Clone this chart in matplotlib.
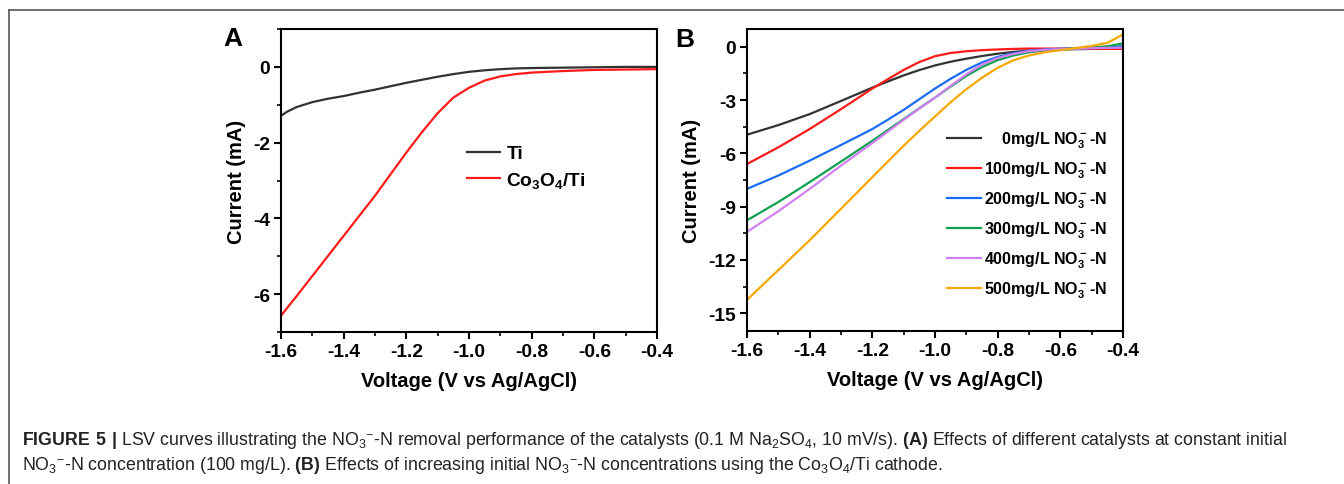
import matplotlib
matplotlib.use("Agg")
import matplotlib.pyplot as plt
from matplotlib import font_manager
from matplotlib.lines import Line2D
from matplotlib.ticker import MultipleLocator

# Panel A: LSV of bare Ti vs Co3O4/Ti at 100 mg/L nitrate
voltageA = [-1.6, -1.58, -1.55, -1.5, -1.45, -1.4, -1.35, -1.3, -1.25, -1.2, -1.15,
            -1.1, -1.05, -1.0, -0.95, -0.9, -0.85, -0.8, -0.7, -0.6, -0.5, -0.4]
currentTi = [-1.29, -1.18, -1.06, -0.93, -0.84, -0.77, -0.68, -0.60, -0.51, -0.42, -0.34,
             -0.26, -0.19, -0.13, -0.09, -0.06, -0.04, -0.03, -0.02, -0.01, 0.0, 0.0]
currentCo = [-6.57, -6.36, -6.05, -5.52, -4.99, -4.46, -3.93, -3.40, -2.83, -2.26, -1.72,
             -1.22, -0.81, -0.55, -0.36, -0.25, -0.19, -0.15, -0.11, -0.08, -0.07, -0.06]
labelsA = ["Ti", "Co$_3$O$_4$/Ti"]
colorsA = ["#333333", "#ff1a1a"]

# Panel B: Co3O4/Ti at increasing initial nitrate concentration
voltageB = [-1.6, -1.5, -1.4, -1.3, -1.2, -1.15, -1.1, -1.05, -1.0, -0.95,
            -0.9, -0.85, -0.8, -0.75, -0.7, -0.65, -0.6, -0.5, -0.45, -0.4]
current0 = [-4.95, -4.41, -3.79, -3.05, -2.30, -1.95, -1.61, -1.31, -1.05, -0.84,
            -0.67, -0.52, -0.39, -0.29, -0.21, -0.17, -0.15, -0.12, -0.11, -0.10]
current100 = [-6.60, -5.66, -4.63, -3.51, -2.35, -1.82, -1.30, -0.86, -0.53, -0.35,
              -0.25, -0.19, -0.15, -0.12, -0.10, -0.10, -0.10, -0.10, -0.11, -0.12]
current200 = [-8.00, -7.25, -6.41, -5.53, -4.63, -4.10, -3.55, -2.95, -2.35, -1.80,
              -1.30, -0.88, -0.57, -0.36, -0.22, -0.15, -0.11, -0.05, -0.01, 0.03]
current300 = [-9.77, -8.74, -7.62, -6.46, -5.29, -4.68, -4.07, -3.46, -2.86, -2.24,
              -1.64, -1.14, -0.75, -0.49, -0.31, -0.21, -0.15, -0.05, 0.03, 0.19]
current400 = [-10.42, -9.26, -8.00, -6.69, -5.42, -4.77, -4.11, -3.48, -2.86, -2.20,
              -1.55, -1.00, -0.63, -0.40, -0.25, -0.17, -0.13, -0.08, -0.06, -0.05]
current500 = [-14.25, -12.57, -10.89, -9.12, -7.34, -6.45, -5.57, -4.73, -3.92, -3.12,
              -2.39, -1.74, -1.18, -0.76, -0.49, -0.31, -0.19, 0.05, 0.22, 0.70]
concentrations = ["\u2007\u20070", "100", "200", "300", "400", "500"]
colorsB = ["#333333", "#ff1a1a", "#1a6cf5", "#10a050", "#d080f0", "#f5a800"]

# pick a narrow font for the caption if it is there
try:
    font_manager.findfont("Liberation Sans Narrow", fallback_to_default=False)
    captionFont = "Liberation Sans Narrow"
    captionSize = 14
except ValueError:
    captionFont = "Liberation Sans"
    captionSize = 12.75

plt.rcParams["font.family"] = ["Liberation Sans", "DejaVu Sans"]
plt.rcParams["font.weight"] = "bold"
plt.rcParams["axes.labelweight"] = "bold"
plt.rcParams["axes.unicode_minus"] = False
plt.rcParams["mathtext.fontset"] = "custom"
plt.rcParams["mathtext.rm"] = captionFont
plt.rcParams["mathtext.bf"] = captionFont + ":bold"
plt.rcParams["mathtext.default"] = "regular"


def styleAxes(ax, ymin, ymax, ymajor):
    """Origin-like frame: thick spines, outward ticks on left/bottom only."""
    ax.set_xlim(-1.6, -0.4)
    ax.set_ylim(ymin, ymax)
    ax.xaxis.set_major_locator(MultipleLocator(0.2))
    ax.xaxis.set_minor_locator(MultipleLocator(0.1))
    ax.yaxis.set_major_locator(MultipleLocator(ymajor))
    ax.yaxis.set_minor_locator(MultipleLocator(ymajor / 2))
    ax.xaxis.set_major_formatter(plt.FuncFormatter(lambda v, p: "%.1f" % v))
    for s in ax.spines.values():
        s.set_linewidth(1.5)
    ax.tick_params(which="major", direction="out", length=5, width=1.5,
                   labelsize=13.8, pad=3)
    ax.tick_params(which="minor", direction="out", length=3, width=1.2)
    ax.set_xlabel("Voltage (V vs Ag/AgCl)", fontsize=14.5, labelpad=8)
    ax.set_ylabel("Current (mA)", fontsize=14.5, labelpad=5)


fig = plt.figure(figsize=(13.44, 4.85), dpi=100)
axA = fig.add_axes([0.2091, 0.3134, 0.2798, 0.6247])
axB = fig.add_axes([0.5558, 0.3155, 0.2798, 0.6226])

axA.plot(voltageA, currentTi, color=colorsA[0], lw=1.6, label=labelsA[0])
axA.plot(voltageA, currentCo, color=colorsA[1], lw=1.6, label=labelsA[1])
styleAxes(axA, -7, 1, 2)
axA.legend(loc="upper left", bbox_to_anchor=(0.495, 0.617), frameon=False,
           fontsize=13.8, handlelength=1.7, handletextpad=0.35, labelspacing=0.4,
           borderpad=0, borderaxespad=0)

seriesB = [current0, current100, current200, current300, current400, current500]
for conc, cur, col in zip(concentrations, seriesB, colorsB):
    axB.plot(voltageB, cur, color=col, lw=1.6,
             label=conc + "mg/L NO$_3^-$-N")
styleAxes(axB, -16, 1, 3)
axB.legend(loc="upper left", bbox_to_anchor=(0.532, 0.667), frameon=False,
           fontsize=11.5, handlelength=2.1, handletextpad=0.2, labelspacing=0.6,
           borderpad=0, borderaxespad=0)

fig.text(233 / 1344, 1 - 39 / 485, "A", fontsize=19, fontweight="bold",
         ha="center", va="center")
fig.text(685 / 1344, 1 - 40 / 485, "B", fontsize=19, fontweight="bold",
         ha="center", va="center")

# frame of the figure box (top and left edges)
frameColor = "#555555"
fig.add_artist(Line2D([9 / 1344, 1], [1 - 11 / 485, 1 - 11 / 485],
                      transform=fig.transFigure, color=frameColor, lw=1.2))
fig.add_artist(Line2D([9 / 1344, 9 / 1344], [0, 1 - 11 / 485],
                      transform=fig.transFigure, color=frameColor, lw=1.2))

caption1 = (r"$\mathbf{FIGURE\ 5\ |}$ LSV curves illustrating the NO$_3$$^{-}$-N removal "
            r"performance of the catalysts (0.1 M Na$_2$SO$_4$, 10 mV/s). "
            r"$\mathbf{(A)}$ Effects of different catalysts at constant initial")
caption2 = (r"NO$_3$$^{-}$-N concentration (100 mg/L). $\mathbf{(B)}$ Effects of increasing "
            r"initial NO$_3$$^{-}$-N concentrations using the Co$_3$O$_4$/Ti cathode.")
fig.text(22 / 1344, 1 - 441 / 485, caption1, fontsize=captionSize, fontweight="normal",
         family=captionFont, color="#222222", ha="left", va="center")
fig.text(22 / 1344, 1 - 466 / 485, caption2, fontsize=captionSize, fontweight="normal",
         family=captionFont, color="#222222", ha="left", va="center")

fig.savefig("out.png", dpi=100)
